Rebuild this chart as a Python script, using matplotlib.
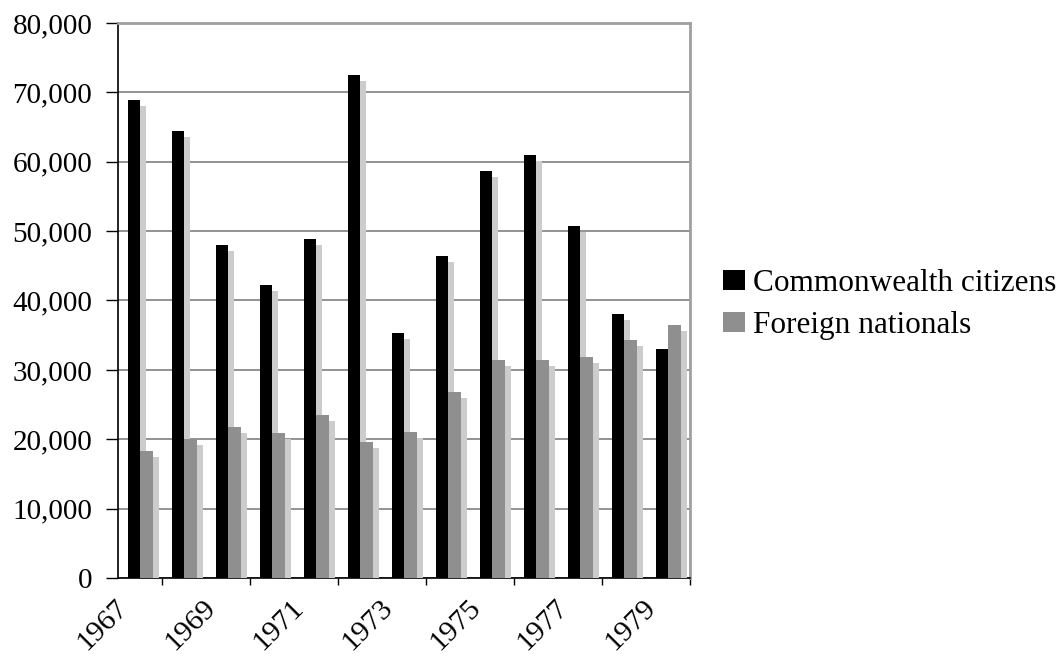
import matplotlib.pyplot as plt
import matplotlib.patheffects as pe
import matplotlib.transforms as mtransforms
from matplotlib.patches import Patch
from matplotlib.ticker import FuncFormatter, FixedLocator
import numpy as np

years = list(range(1967, 1980))
commonwealth = [68900, 64400, 48050, 42300, 48800, 72450, 35300,
                46450, 58650, 60900, 50700, 38000, 33050]
foreign = [18300, 20050, 21750, 20850, 23450, 19600, 21050,
           26800, 31400, 31400, 31900, 34300, 36500]
label_years = years[::2]

plt.rcParams['font.family'] = ['Liberation Serif', 'DejaVu Serif']

fig = plt.figure(figsize=(10.57, 6.66), dpi=100)
ax = fig.add_axes([0.1116, 0.1321, 0.5412, 0.8334])

x = np.arange(len(years))
w = 0.29
shadow = [pe.SimplePatchShadow(offset=(4.3, -4.3), shadow_rgbFace='#cccccc', alpha=1.0),
          pe.Normal()]

b1 = ax.bar(x - 0.138, commonwealth, w, color='black', zorder=3)
b2 = ax.bar(x + 0.152, foreign, w, color='#8f8f8f', zorder=3)
for bar in list(b1) + list(b2):
    bar.set_path_effects(shadow)

ax.set_xlim(-0.5, len(years) - 0.5)
ax.set_ylim(0, 80000)
ax.set_yticks(np.arange(0, 80001, 10000))
ax.yaxis.set_major_formatter(FuncFormatter(lambda v, p: f'{int(v):,}'))
ax.yaxis.grid(True, color='#808080', linewidth=1.2, zorder=0)
ax.set_axisbelow(True)

# tick marks on category boundaries, labels on every other year
ax.xaxis.set_minor_locator(FixedLocator(np.arange(-0.5, len(years), 1.0)))
ax.xaxis.set_major_locator(FixedLocator([years.index(y) - 0.5 for y in label_years]))
ax.set_xticklabels([str(y) for y in label_years])
ax.tick_params(axis='x', which='major', length=0, pad=12, labelsize=21.5)
ax.tick_params(axis='x', which='minor', length=5, width=1, color='black')
ax.tick_params(axis='y', length=8.5, width=1, pad=10, labelsize=21, color='black')
shift = mtransforms.ScaledTranslation(-3 / 100, 0, fig.dpi_scale_trans)
for lbl in ax.get_xticklabels():
    lbl.set_rotation(45)
    lbl.set_ha('right')
    lbl.set_va('top')
    lbl.set_rotation_mode('anchor')
    lbl.set_transform(lbl.get_transform() + shift)

for side in ['left', 'bottom']:
    ax.spines[side].set_color('black')
    ax.spines[side].set_linewidth(1.2)
for side in ['right', 'top']:
    ax.spines[side].set_color('#a0a0a0')
    ax.spines[side].set_linewidth(2.0)

handles = [Patch(facecolor='black', edgecolor='none'),
           Patch(facecolor='#8f8f8f', edgecolor='none')]
fig.legend(handles, ['Commonwealth citizens', 'Foreign nationals'],
           loc='center left', bbox_to_anchor=(0.684, 0.543), frameon=False,
           fontsize=22.5, handlelength=0.7, handleheight=0.6, handletextpad=0.25,
           labelspacing=0.42, borderaxespad=0, borderpad=0)

fig.savefig('out.png', dpi=100)
